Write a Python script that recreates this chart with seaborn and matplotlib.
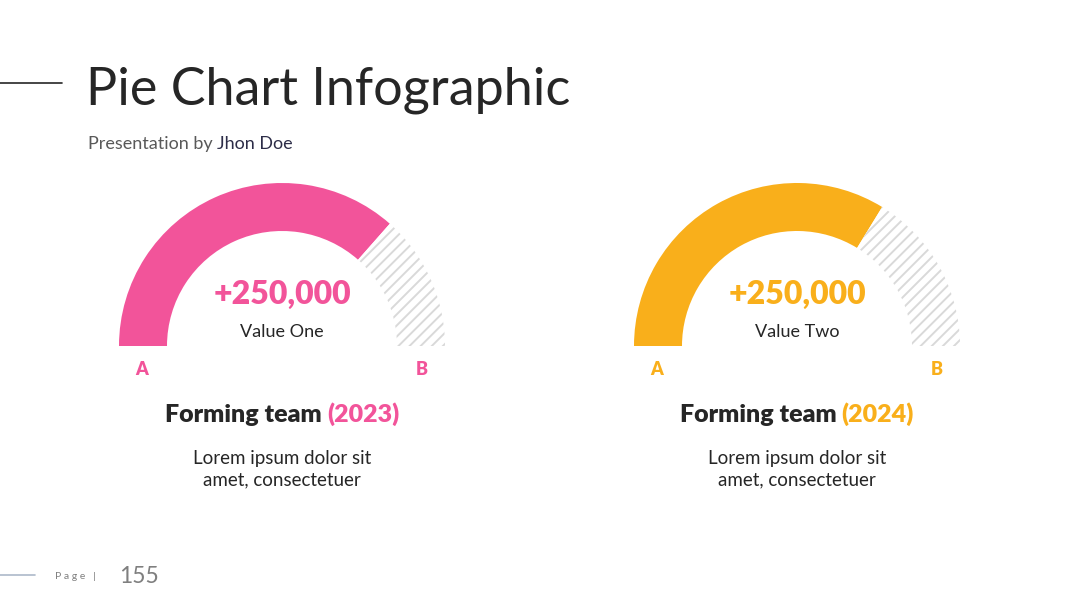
import matplotlib
matplotlib.use("Agg")
import matplotlib.pyplot as plt
import seaborn as sns

# ---------------- data ----------------
years = ["2023", "2024"]
gauge_labels = ["Value One", "Value Two"]
value_texts = ["+250,000", "+250,000"]
filled_pct = [73, 67.5]
end_labels = ["A", "B"]
gauge_colors = ["#F2549A", "#F9AF1B"]
heading_prefix = "Forming team"
body_lines = ["Lorem ipsum dolor sit", "amet, consectetuer"]
title = "Pie Chart Infographic"
subtitle_parts = ["Presentation by", "Jhon Doe"]
page_number = "155"

# ---------------- style ----------------
sns.set_theme(style="white")
plt.rcParams["font.family"] = ["Lato", "DejaVu Sans"]
plt.rcParams["hatch.linewidth"] = 1.4

W, H = 1080, 608
fig = plt.figure(figsize=(W / 100, H / 100), dpi=100)
fig.patch.set_facecolor("white")
bg = fig.add_axes([0, 0, 1, 1])
bg.set_xlim(0, W)
bg.set_ylim(H, 0)
bg.axis("off")
renderer = fig.canvas.get_renderer()

DARK = "#262626"


def rich_text(x, y, parts, ha="center", gap=0.0, **kw):
    texts = [bg.text(0, y, s, color=c, ha="left", va="baseline", **kw) for s, c in parts]
    widths = [t.get_window_extent(renderer).width for t in texts]
    total = sum(widths) + gap * (len(parts) - 1)
    start = x - total / 2 if ha == "center" else x
    for t, w in zip(texts, widths):
        t.set_x(start)
        start += w + gap


# header
bg.plot([0, 62], [83, 83], color=DARK, lw=1.2)
bg.text(86, 105, title, fontsize=37.5, color=DARK, ha="left", va="baseline")
rich_text(88, 149, [(subtitle_parts[0], "#595959"), (subtitle_parts[1], "#2D2D48")],
          ha="left", gap=4, fontsize=13)

# gauges
centers = [282, 797]
R = 163
r_in = 115
for i, cx in enumerate(centers):
    cy = 346
    ax = fig.add_axes([(cx - R) / W, (H - cy - R) / H, 2 * R / W, 2 * R / H])
    vals = [filled_pct[i], 100 - filled_pct[i], 100]
    wedges, _ = ax.pie(vals, startangle=180, counterclock=False,
                       colors=[gauge_colors[i], "white", "white"],
                       wedgeprops=dict(width=(R - r_in) / R, linewidth=0))
    wedges[1].set_hatch("///")
    wedges[1].set_edgecolor("#D9D9D9")
    wedges[1].set_linewidth(0)
    wedges[2].set_visible(False)
    ax.set_xlim(-1, 1)
    ax.set_ylim(-1, 1)
    ax.axis("off")

    col = gauge_colors[i]
    bg.text(cx, 304, value_texts[i], color=col, fontsize=23, fontweight="heavy",
            ha="center", va="baseline")
    bg.text(cx, 337, gauge_labels[i], color=DARK, fontsize=13,
            ha="center", va="baseline")
    bg.text(cx - 140, 375, end_labels[0], color=col, fontsize=13, fontweight="heavy",
            ha="center", va="baseline")
    bg.text(cx + 140, 375, end_labels[1], color=col, fontsize=13, fontweight="heavy",
            ha="center", va="baseline")
    rich_text(cx, 422, [(heading_prefix, DARK), (f"({years[i]})", col)],
              gap=5, fontsize=18, fontweight="heavy")
    for j, line in enumerate(body_lines):
        bg.text(cx, 464 + j * 21, line, color=DARK, fontsize=13.5,
                ha="center", va="baseline")

# footer
bg.plot([0, 35], [575, 575], color="#ADB9CA", lw=1.2)
bg.text(55, 579, "P a g e   |", color="#7F7F7F", fontsize=7.5, ha="left", va="baseline")
bg.text(119, 583, page_number, color="#7F7F7F", fontsize=16.5, ha="left", va="baseline")

fig.savefig("out.png", dpi=100, facecolor="white")
